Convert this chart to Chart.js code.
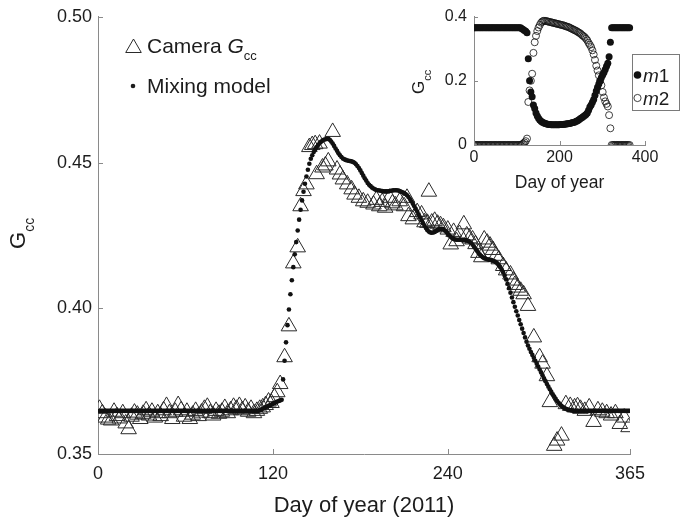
<!DOCTYPE html>
<html><head><meta charset="utf-8">
<script src="https://cdn.jsdelivr.net/npm/chart.js@4.4.0/dist/chart.umd.min.js"></script>
<style>
html,body{margin:0;padding:0;background:#fff;}
#wrap{position:relative;width:682px;height:520px;overflow:hidden;}
#main{position:absolute;left:0;top:0;}
#inset{position:absolute;left:395px;top:0;}
</style></head><body>
<div id="wrap">
<canvas id="main" width="682" height="520"></canvas>
<canvas id="inset" width="287" height="200"></canvas>
</div>
<script>
// ---------------- DATA ----------------
const xTickValues = [0, 120, 240, 365];
const yTickValues = [0.35, 0.40, 0.45, 0.50];
const insetXTickValues = [0, 200, 400];
const insetYTickValues = [0, 0.2, 0.4];

const xTitle = 'Day of year (2011)';
const insetXTitle = 'Day of year';

// Camera Gcc (triangles)
const cameraDays = [
1,3,5,7,9,11,13,15,17,19,21,23,25,27,29,31,33,35,37,39,41,43,45,47,49,51,53,55,57,59,61,63,65,67,69,71,73,75,77,79,81,83,85,87,89,91,93,95,97,99,101,103,105,107,109,
111,113,115,117,119,121,123,125,128,131,134,137,139,141,143,
145,147,149,150,152,154,156,158,161,
164,166,168,171,174,176,179,182,185,189,191,193,195,197,200,202,204,207,210,212,213,216,219,222,224,226,227,
229,231,233,235,237,240,242,244,246,248,251,253,255,257,259,261,263,265,267,269,
271,273,275,278,280,283,285,286,288,290,292,295,299,303,305,308,310,313,315,318,
321,324,327,329,331,334,337,340,343,346,349,352,355,358,361,364];
const cameraGcc = [
0.3655,0.3640,0.3625,0.3618,0.3615,0.3645,0.3630,0.3622,0.3640,0.3605,
0.3585,0.3628,0.3642,0.3635,0.3620,0.3638,0.3650,0.3632,0.3645,0.3625,
0.3640,0.3630,0.3650,0.3665,0.3640,0.3620,0.3645,0.3668,0.3650,0.3628,
0.3645,0.3620,0.3635,0.3648,0.3630,0.3642,0.3655,0.3662,0.3640,0.3632,
0.3648,0.3638,0.3645,0.3658,0.3640,0.3650,0.3662,0.3655,0.3665,0.3650,
0.3660,0.3645,0.3655,0.3640,0.3648,
0.3655,0.3660,0.3668,0.3680,0.3675,0.3695,0.3712,0.3740,0.3832,0.3938,0.4154,0.4209,0.4350,0.4402,0.4425,
0.4553,0.4560,0.4563,0.4460,0.4565,0.4483,0.4490,0.4504,0.4605,
0.4476,0.4459,0.4442,0.4425,0.4408,0.4390,0.4379,0.4367,0.4362,0.4356,
0.4372,0.4350,0.4365,0.4345,0.4379,0.4360,0.4353,0.4367,0.4350,0.4379,
0.4316,0.4305,0.4330,0.4322,0.4295,0.4293,0.4400,
0.4294,0.4300,0.4290,0.4285,0.4278,0.4270,0.4219,0.4262,0.4230,0.4255,
0.4288,0.4250,0.4240,0.4236,0.4220,0.4190,0.4175,0.4236,0.4225,0.4215,
0.4200,0.4180,0.4168,0.4145,0.4130,0.4116,0.4095,0.4080,0.4071,0.4060,
0.4048,0.4008,0.3900,0.3832,0.3810,0.3767,0.3678,0.3528,0.3546,0.3563,
0.3671,0.3665,0.3660,0.3664,0.3655,0.3648,0.3660,0.3610,0.3650,0.3645,
0.3640,0.3632,0.3640,0.3603,0.3625,0.3592];

// Mixing model, one value per day of year (day 1 .. 365)
const modelGcc = [
0.3648,0.3648,0.3648,0.3648,0.3648,0.3648,0.3648,0.3648,0.3648,0.3648,
0.3648,0.3648,0.3648,0.3648,0.3648,0.3648,0.3648,0.3648,0.3648,0.3648,
0.3648,0.3648,0.3648,0.3648,0.3648,0.3648,0.3648,0.3648,0.3648,0.3648,
0.3648,0.3648,0.3648,0.3648,0.3648,0.3648,0.3648,0.3648,0.3648,0.3648,
0.3648,0.3648,0.3648,0.3648,0.3648,0.3648,0.3648,0.3648,0.3648,0.3648,
0.3648,0.3648,0.3648,0.3648,0.3648,0.3648,0.3648,0.3648,0.3648,0.3648,
0.3648,0.3648,0.3648,0.3648,0.3648,0.3648,0.3648,0.3648,0.3648,0.3648,
0.3648,0.3648,0.3648,0.3648,0.3648,0.3648,0.3648,0.3648,0.3648,0.3648,
0.3648,0.3648,0.3648,0.3648,0.3648,0.3648,0.3648,0.3648,0.3648,0.3648,
0.3648,0.3648,0.3648,0.3648,0.3648,0.3648,0.3648,0.3648,0.3648,0.3648,
0.3648,0.3648,0.3648,0.3648,0.3648,0.3648,0.3648,0.3648,0.3648,0.3648,
0.3650,0.3652,0.3655,0.3657,0.3660,0.3662,0.3665,0.3667,0.3670,0.3672,0.3675,0.3677,0.3680,0.3682,0.3684,0.3686,
0.3756,0.3820,0.3883,0.3942,0.3996,0.4048,0.4096,0.4141,0.4185,0.4227,
0.4267,0.4304,0.4338,0.4370,0.4400,0.4427,0.4452,0.4475,0.4496,0.4513,
0.4525,0.4536,0.4545,0.4553,0.4560,0.4566,0.4571,0.4575,0.4578,0.4580,0.4581,0.4581,0.4578,0.4572,
0.4565,0.4557,0.4548,0.4540,0.4532,0.4525,0.4519,0.4514,0.4511,0.4509,
0.4507,0.4506,0.4505,0.4504,0.4502,0.4499,0.4494,0.4488,0.4481,0.4473,
0.4464,0.4455,0.4446,0.4438,0.4430,0.4424,0.4419,0.4414,0.4411,0.4408,
0.4406,0.4405,0.4404,0.4403,0.4402,0.4401,0.4401,0.4401,0.4401,0.4402,
0.4403,0.4404,0.4405,0.4405,0.4405,0.4404,0.4402,0.4400,0.4398,0.4395,
0.4392,0.4388,0.4382,0.4375,0.4367,0.4359,0.4350,0.4341,0.4332,0.4322,
0.4312,0.4302,0.4292,0.4283,0.4275,0.4268,0.4263,0.4260,0.4259,0.4260,
0.4262,0.4265,0.4268,0.4271,0.4273,0.4273,0.4271,0.4267,0.4262,0.4256,
0.4250,0.4245,0.4241,0.4238,0.4236,0.4235,0.4235,0.4235,0.4235,0.4235,
0.4235,0.4234,0.4233,0.4231,0.4228,0.4224,0.4218,0.4211,0.4204,0.4197,
0.4190,0.4184,0.4179,0.4175,0.4172,0.4170,0.4168,0.4167,0.4166,0.4165,
0.4163,0.4161,0.4158,0.4154,0.4148,0.4141,0.4133,0.4123,0.4112,0.4099,
0.4084,0.4069,0.4053,0.4037,0.4021,0.4005,0.3990,0.3975,0.3960,0.3945,
0.3930,0.3915,0.3900,0.3885,0.3872,0.3861,0.3850,0.3840,0.3830,0.3820,
0.3810,0.3800,0.3790,0.3780,0.3770,0.3760,0.3750,0.3740,0.3731,0.3722,
0.3713,0.3705,0.3697,0.3689,0.3682,0.3676,0.3670,0.3665,0.3661,0.3658,
0.3655,0.3653,0.3651,0.3650,0.3649,
0.3648,0.3648,0.3648,0.3648,0.3648,0.3648,0.3648,0.3648,0.3648,0.3648,
0.3648,0.3648,0.3648,0.3648,0.3648,0.3648,0.3648,0.3648,0.3648,0.3648,
0.3648,0.3648,0.3648,0.3648,0.3648,0.3648,0.3648,0.3648,0.3648,0.3648,
0.3648,0.3648,0.3648,0.3648,0.3648,0.3648,0.3648,0.3648,0.3648,0.3648];
const modelDays = modelGcc.map((_, i) => i + 1);

// Inset: end-member weights m1 (filled) and m2 (open)
const insetDays = [
1,4,7,10,13,16,19,22,25,28,31,34,37,40,43,46,49,52,55,58,61,64,67,70,73,76,79,82,85,88,91,94,97,100,103,106,109,
112,115,118,121,124,127,130,133,136,139,142,145,148,151,154,157,160,163,166,169,
172,175,178,181,184,187,190,193,196,199,202,205,208,211,214,217,220,223,226,229,
232,235,238,241,244,247,250,253,256,259,262,265,268,271,274,277,280,283,286,289,
292,295,298,301,304,307,310,313,316,319,322,325,328,331,334,337,340,343,346,349,352,355,358,361,364];
const m1Gcc = [
0.365,0.365,0.365,0.365,0.365,0.365,0.365,0.365,0.365,0.365,
0.365,0.365,0.365,0.365,0.365,0.365,0.365,0.365,0.365,0.365,
0.365,0.365,0.365,0.365,0.365,0.365,0.365,0.365,0.365,0.365,
0.365,0.365,0.365,0.365,0.365,0.365,0.365,
0.362,0.360,0.357,0.354,0.350,0.269,0.200,0.165,0.150,0.125,
0.114,0.100,0.090,0.083,0.078,0.074,0.071,0.069,0.067,0.066,
0.065,0.064,0.064,0.063,0.063,0.063,0.063,0.063,0.063,0.063,
0.064,0.064,0.064,0.065,0.065,0.066,0.066,0.067,0.068,0.069,
0.070,0.071,0.073,0.075,0.077,0.080,0.083,0.086,0.089,0.092,
0.095,0.100,0.108,0.118,0.125,0.133,0.142,0.155,0.168,0.180,
0.190,0.200,0.210,0.218,0.226,0.235,0.245,0.255,0.275,0.320,
0.365,0.365,0.365,0.365,0.365,0.365,0.365,0.365,0.365,0.365,0.365,0.365,0.365,0.365,0.365];
const m2Gcc = [
0,0,0,0,0,0,0,0,0,0,0,0,0,0,0,0,0,0,0,0,0,0,0,0,0,0,0,0,0,0,0,0,0,0,0,0,0,
0.002,0.004,0.008,0.012,0.020,0.134,0.170,0.200,0.222,0.287,
0.320,0.340,0.355,0.366,0.374,0.381,0.385,0.387,0.387,0.386,
0.385,0.384,0.383,0.382,0.381,0.380,0.379,0.378,0.377,0.376,
0.375,0.374,0.373,0.372,0.370,0.369,0.368,0.366,0.364,0.362,
0.360,0.358,0.356,0.354,0.351,0.349,0.346,0.342,0.339,0.336,
0.331,0.326,0.318,0.312,0.305,0.295,0.282,0.265,0.247,0.232,
0.217,0.200,0.186,0.165,0.148,0.136,0.128,0.120,0.093,0.052,
0,0,0,0,0,0,0,0,0,0,0,0,0,0,0];

// ---------------- STYLE ----------------
const FONT = '"Liberation Sans", Arial, Helvetica, sans-serif';
const TEXT = '#1c1c1c';
const AXIS = '#8a8a8a';
Chart.defaults.font.family = FONT;
Chart.defaults.color = TEXT;

function drawRuns(ctx, runs, x, y, align) {
  let total = 0;
  runs.forEach(r => { ctx.font = r.f; r.w = ctx.measureText(r.t).width; total += r.w; });
  let cx = align === 'center' ? x - total / 2 : x;
  ctx.textAlign = 'left';
  ctx.textBaseline = 'alphabetic';
  runs.forEach(r => { ctx.font = r.f; ctx.fillText(r.t, cx, y + (r.dy || 0)); cx += r.w; });
}
function drawTri(ctx, x, y, r) {
  const s = Math.sin(2 * Math.PI / 3), c = Math.cos(2 * Math.PI / 3);
  ctx.beginPath();
  ctx.moveTo(x, y - r);
  ctx.lineTo(x + r * s, y - r * c);
  ctx.lineTo(x - r * s, y - r * c);
  ctx.closePath();
  ctx.stroke();
}
function inwardTicks(chart, len) {
  const {ctx, chartArea: a, scales: {x, y}} = chart;
  ctx.save();
  ctx.strokeStyle = AXIS; ctx.lineWidth = 1;
  x.ticks.forEach(t => {
    const px = Math.round(x.getPixelForValue(t.value)) + 0.5;
    ctx.beginPath(); ctx.moveTo(px, a.bottom); ctx.lineTo(px, a.bottom - len); ctx.stroke();
  });
  y.ticks.forEach(t => {
    const py = Math.round(y.getPixelForValue(t.value)) + 0.5;
    ctx.beginPath(); ctx.moveTo(a.left, py); ctx.lineTo(a.left + len, py); ctx.stroke();
  });
  ctx.restore();
}

const mainDecor = {
  id: 'mainDecor',
  afterDraw(chart) {
    const {ctx, chartArea: a} = chart;
    inwardTicks(chart, 5);
    ctx.save();
    ctx.fillStyle = TEXT;
    // x title
    drawRuns(ctx, [{t: xTitle, f: '22px ' + FONT}], (a.left + a.right) / 2, 512, 'center');
    // y title (rotated)
    ctx.save();
    ctx.translate(25, (a.top + a.bottom) / 2 - 2);
    ctx.rotate(-Math.PI / 2);
    drawRuns(ctx, [{t: 'G', f: '22px ' + FONT}, {t: 'cc', f: '14px ' + FONT, dy: 9}], 0, 0, 'center');
    ctx.restore();
    // legend
    ctx.strokeStyle = '#2a2a2a'; ctx.lineWidth = 1;
    drawTri(ctx, 133.5, 48, 9);
    drawRuns(ctx, [{t: 'Camera ', f: '21px ' + FONT}, {t: 'G', f: 'italic 21px ' + FONT}, {t: 'cc', f: '13px ' + FONT, dy: 7}], 147, 53, 'left');
    ctx.beginPath(); ctx.arc(133, 86, 2.3, 0, Math.PI * 2); ctx.fill();
    drawRuns(ctx, [{t: 'Mixing model', f: '21px ' + FONT}], 147, 93, 'left');
    ctx.restore();
  }
};

const insetDecor = {
  id: 'insetDecor',
  afterDraw(chart) {
    const {ctx, chartArea: a} = chart;
    inwardTicks(chart, 4);
    ctx.save();
    ctx.fillStyle = TEXT;
    drawRuns(ctx, [{t: insetXTitle, f: '17.5px ' + FONT}], (a.left + a.right) / 2, 188, 'center');
    ctx.save();
    ctx.translate(29, (a.top + a.bottom) / 2 + 1);
    ctx.rotate(-Math.PI / 2);
    drawRuns(ctx, [{t: 'G', f: '17px ' + FONT}, {t: 'cc', f: '11px ' + FONT, dy: 7}], 0, 0, 'center');
    ctx.restore();
    // legend box
    ctx.fillStyle = '#fff';
    ctx.fillRect(237.5, 54.5, 47, 56);
    ctx.strokeStyle = '#7a7a7a'; ctx.lineWidth = 1;
    ctx.strokeRect(237.5, 54.5, 47, 56);
    ctx.fillStyle = '#111';
    ctx.beginPath(); ctx.arc(242.5, 75, 3.8, 0, Math.PI * 2); ctx.fill();
    ctx.strokeStyle = '#111'; ctx.lineWidth = 0.8;
    ctx.beginPath(); ctx.arc(242.5, 98, 3.6, 0, Math.PI * 2); ctx.stroke();
    ctx.fillStyle = TEXT;
    drawRuns(ctx, [{t: 'm', f: 'italic 19px ' + FONT}, {t: '1', f: '19px ' + FONT}], 248, 82, 'left');
    drawRuns(ctx, [{t: 'm', f: 'italic 19px ' + FONT}, {t: '2', f: '19px ' + FONT}], 248, 105, 'left');
    ctx.restore();
  }
};

function axisCommon(size, pad) {
  return {
    grid: {display: true, drawOnChartArea: false, drawTicks: false},
    border: {display: true, color: AXIS, width: 1},
    ticks: {font: {family: FONT, size: size}, color: TEXT, padding: pad, autoSkip: false, maxRotation: 0}
  };
}

// ---------------- MAIN CHART ----------------
const mx = axisCommon(18, 9);
const my = axisCommon(18, 6);
mx.ticks.callback = v => String(v);
my.ticks.callback = v => v.toFixed(2);
new Chart(document.getElementById('main'), {
  type: 'scatter',
  data: {
    datasets: [
      {
        label: 'Camera Gcc',
        data: cameraDays.map((d, i) => ({x: d, y: cameraGcc[i]})),
        pointStyle: 'triangle', pointRadius: 9, borderWidth: 1,
        borderColor: '#2a2a2a', backgroundColor: 'rgba(0,0,0,0)', order: 2
      },
      {
        label: 'Mixing model',
        data: modelDays.map((d, i) => ({x: d, y: modelGcc[i]})),
        pointStyle: 'circle', pointRadius: 2.3, borderWidth: 0,
        backgroundColor: '#111', order: 1
      }
    ]
  },
  options: {
    responsive: false, animation: false, events: [],
    layout: {padding: {left: 0, right: 52, top: 16, bottom: 0}},
    plugins: {legend: {display: false}, tooltip: {enabled: false}},
    scales: {
      x: Object.assign(mx, {
        type: 'linear', min: 0, max: 365,
        afterBuildTicks: s => { s.ticks = xTickValues.map(v => ({value: v})); },
        afterFit: s => { s.height = 66; }
      }),
      y: Object.assign(my, {
        type: 'linear', min: 0.35, max: 0.50,
        afterBuildTicks: s => { s.ticks = yTickValues.map(v => ({value: v})); },
        afterFit: s => { s.width = 98; }
      })
    }
  },
  plugins: [mainDecor]
});

// ---------------- INSET CHART ----------------
const ix = axisCommon(16, 3);
const iy = axisCommon(16, 7);
ix.ticks.callback = v => String(v);
iy.ticks.callback = v => (v === 0 ? '0' : v.toFixed(1));
new Chart(document.getElementById('inset'), {
  type: 'scatter',
  data: {
    datasets: [
      {
        label: 'm2',
        data: insetDays.map((d, i) => ({x: d, y: m2Gcc[i]})),
        pointStyle: 'circle', pointRadius: 3.5, borderWidth: 0.8,
        borderColor: '#111', backgroundColor: 'rgba(0,0,0,0)', order: 2
      },
      {
        label: 'm1',
        data: insetDays.map((d, i) => ({x: d, y: m1Gcc[i]})),
        pointStyle: 'circle', pointRadius: 3.5, borderWidth: 0,
        backgroundColor: '#111', order: 1
      }
    ]
  },
  options: {
    responsive: false, animation: false, events: [],
    layout: {padding: {left: 0, right: 37, top: 16, bottom: 0}},
    plugins: {legend: {display: false}, tooltip: {enabled: false}},
    scales: {
      x: Object.assign(ix, {
        type: 'linear', min: 0, max: 400,
        afterBuildTicks: s => { s.ticks = insetXTickValues.map(v => ({value: v})); },
        afterFit: s => { s.height = 55; }
      }),
      y: Object.assign(iy, {
        type: 'linear', min: 0, max: 0.4,
        afterBuildTicks: s => { s.ticks = insetYTickValues.map(v => ({value: v})); },
        afterFit: s => { s.width = 79; }
      })
    }
  },
  plugins: [insetDecor]
});
</script>
</body></html>
